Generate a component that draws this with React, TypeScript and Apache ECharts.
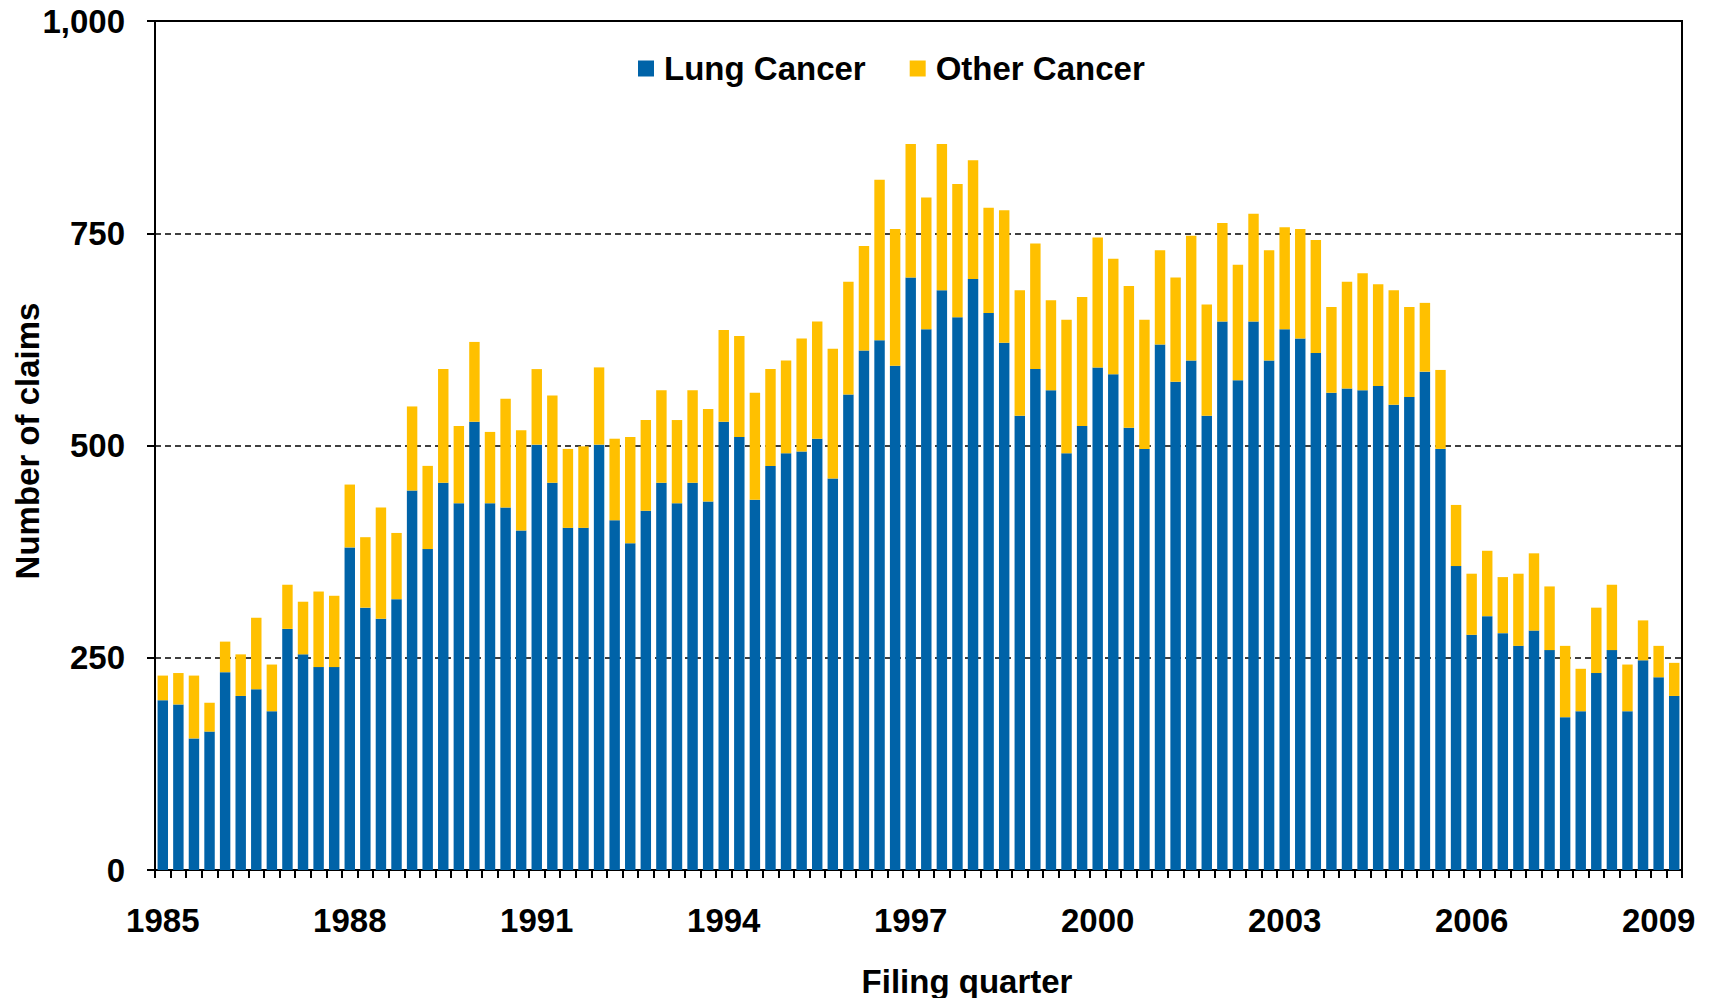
import React, { useEffect, useRef } from "react";
import * as echarts from "echarts";

const FIRST_YEAR = 1985;
const QUARTERS = ["Q1", "Q2", "Q3", "Q4"];

const LUNG = [
  200, 195, 155, 163, 233, 205, 213, 187,
  284, 254, 239, 239, 380, 309, 296, 319,
  447, 378, 456, 432, 528, 432, 427, 400,
  501, 456, 403, 403, 501, 412, 385, 423,
  456, 432, 456, 434, 528, 510, 436, 476,
  491, 493, 508, 461, 560, 612, 624, 594,
  698, 637, 683, 651, 696, 656, 621, 535,
  590, 565, 491, 523, 592, 584, 521, 496,
  619, 575, 600, 535, 646, 577, 646, 600,
  637, 626, 609, 562, 567, 565, 570, 548,
  557, 587, 496, 358, 277, 299, 279, 264,
  282, 259, 180, 187, 232, 259, 187, 247,
  227, 205,
];

const OTHER = [
  29, 37, 74, 34, 36, 49, 84, 55,
  52, 62, 89, 84, 74, 83, 131, 78,
  99, 98, 134, 91, 94, 84, 128, 118,
  89, 103, 93, 96, 91, 96, 125, 107,
  109, 98, 109, 109, 108, 119, 126, 114,
  109, 133, 138, 153, 133, 123, 189, 161,
  157, 155, 172, 157, 140, 124, 156, 148,
  148, 106, 157, 152, 153, 136, 167, 152,
  111, 123, 147, 131, 116, 136, 127, 130,
  120, 129, 133, 101, 126, 138, 120, 135,
  106, 81, 93, 72, 72, 77, 66, 85,
  91, 75, 84, 50, 77, 77, 55, 47,
  37, 39,
];

const Y_TICKS = [0, 250, 500, 750, 1000];

const CATEGORIES: string[] = LUNG.map(
  (_, i) => `${FIRST_YEAR + Math.floor(i / 4)} ${QUARTERS[i % 4]}`
);

const FONT = "'Liberation Sans', Arial, Helvetica, sans-serif";
const FS = 33;
const BLUE = "#0063A8";
const GOLD = "#FFC000";

export default function App() {
  const ref = useRef<HTMLDivElement>(null);

  useEffect(() => {
    if (!ref.current) return;
    const chart = echarts.init(ref.current, null, { renderer: "svg" });
    chart.setOption({
      animation: false,
      backgroundColor: "#ffffff",
      textStyle: { fontFamily: FONT },
      legend: {
        left: 633,
        top: 47,
        itemWidth: 16,
        itemHeight: 16,
        itemGap: 44,
        icon: "rect",
        textStyle: {
          fontFamily: FONT,
          fontSize: FS,
          fontWeight: "bold",
          color: "#000",
          padding: [0, 0, 0, 5],
        },
        data: ["Lung Cancer", "Other Cancer"],
      },
      grid: {
        left: 155,
        right: 33,
        top: 21,
        bottom: 128,
        show: true,
        borderColor: "#000",
        borderWidth: 2,
        backgroundColor: "transparent",
      },
      xAxis: {
        type: "category",
        data: CATEGORIES,
        boundaryGap: true,
        axisLine: { show: true, lineStyle: { color: "#000", width: 2 } },
        axisTick: {
          show: true,
          interval: 0,
          alignWithLabel: false,
          length: 8,
          lineStyle: { color: "#000", width: 2 },
        },
        axisLabel: {
          interval: 11,
          margin: 34,
          fontFamily: FONT,
          fontSize: FS,
          fontWeight: "bold",
          color: "#000",
          formatter: (v: string) => v.slice(0, 4),
        },
        splitLine: { show: false },
      },
      yAxis: {
        type: "value",
        min: Y_TICKS[0],
        max: Y_TICKS[Y_TICKS.length - 1],
        interval: 250,
        axisLine: { show: true, lineStyle: { color: "#000", width: 2 } },
        axisTick: {
          show: true,
          length: 8,
          lineStyle: { color: "#000", width: 2 },
        },
        axisLabel: {
          margin: 30,
          fontFamily: FONT,
          fontSize: FS,
          fontWeight: "bold",
          color: "#000",
          formatter: (v: number) => v.toLocaleString("en-US"),
        },
        splitLine: {
          show: true,
          lineStyle: { color: "#000", width: 1.5, type: [6, 4] },
        },
      },
      series: [
        {
          name: "Lung Cancer",
          type: "bar",
          stack: "claims",
          data: LUNG,
          barWidth: "67%",
          itemStyle: { color: BLUE },
        },
        {
          name: "Other Cancer",
          type: "bar",
          stack: "claims",
          data: OTHER,
          barWidth: "67%",
          itemStyle: { color: GOLD },
        },
      ],
      graphic: [
        {
          type: "text",
          x: 27,
          y: 441,
          rotation: Math.PI / 2,
          style: {
            text: "Number of claims",
            font: `bold ${FS}px ${FONT}`,
            fill: "#000",
            textAlign: "center",
            textVerticalAlign: "middle",
          },
        },
        {
          type: "text",
          x: 967,
          y: 981,
          style: {
            text: "Filing quarter",
            font: `bold ${FS}px ${FONT}`,
            fill: "#000",
            textAlign: "center",
            textVerticalAlign: "middle",
          },
        },
      ],
    });
    return () => chart.dispose();
  }, []);

  return (
    <div
      ref={ref}
      style={{ position: "fixed", left: 0, top: 0, width: 1715, height: 998 }}
    />
  );
}
